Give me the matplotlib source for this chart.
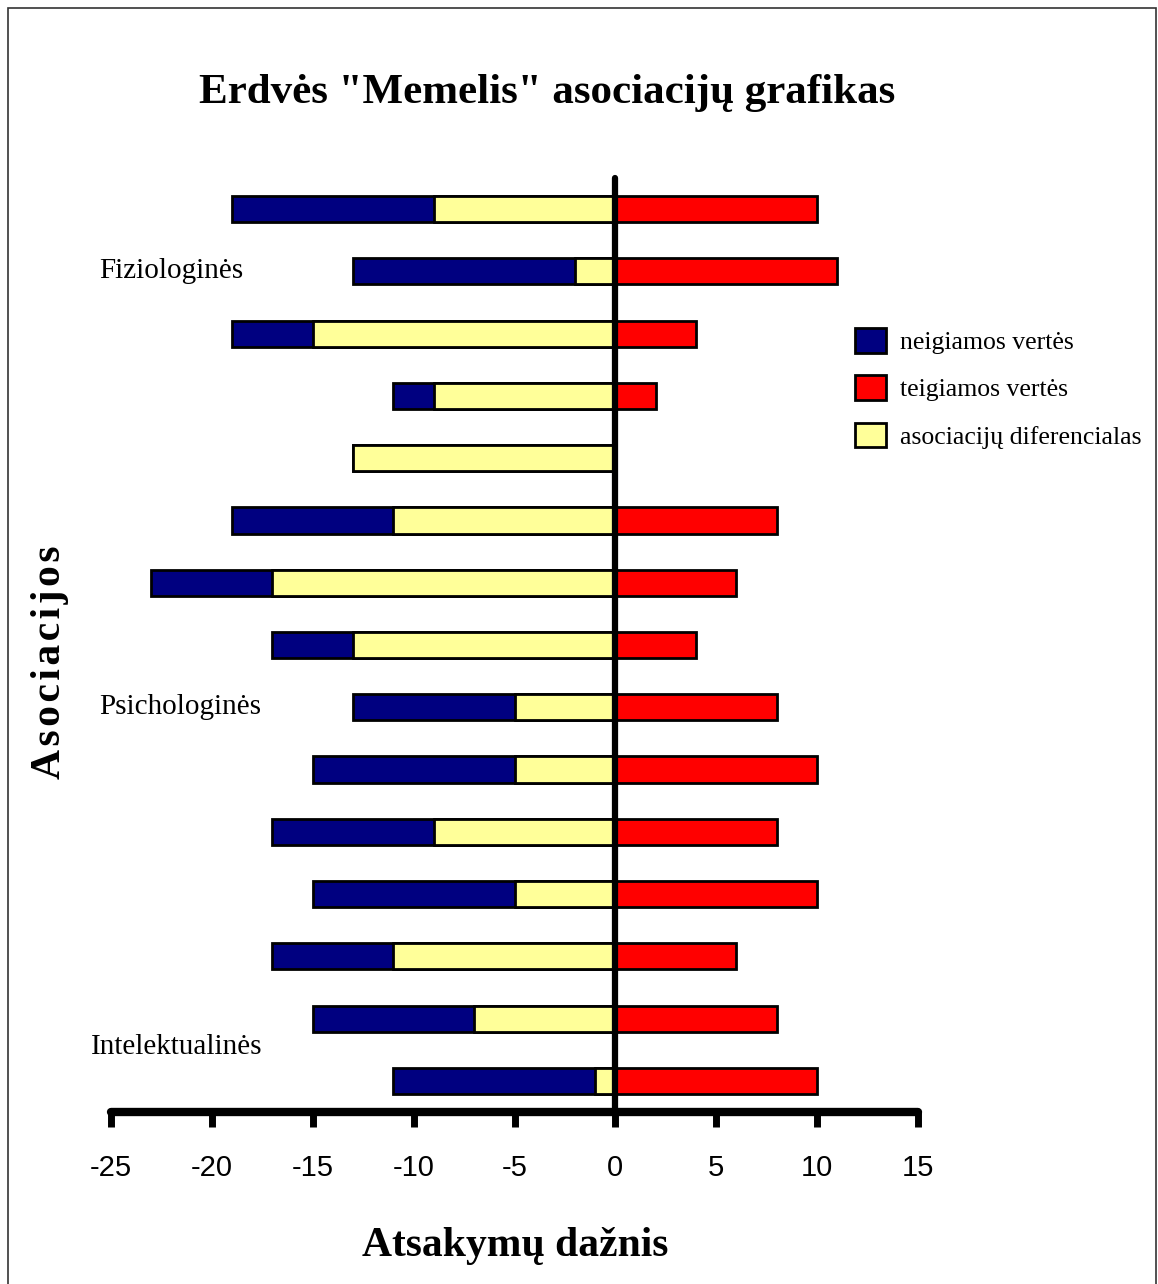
import matplotlib.pyplot as plt
from matplotlib.patches import Patch, Rectangle
import numpy as np

# Values, top row first
negatives = [19, 13, 19, 11, 13, 19, 23, 17, 13, 15, 17, 15, 17, 15, 11]
positives = [10, 11, 4, 2, 0, 8, 6, 4, 8, 10, 8, 10, 6, 8, 10]
differential = [9, 2, 15, 9, 13, 11, 17, 13, 5, 5, 9, 5, 11, 7, 1]

series_labels = ['neigiamos vertės', 'teigiamos vertės', 'asociacijų diferencialas']
group_labels = ['Fiziologinės', 'Psichologinės', 'Intelektualinės']
group_rows = [1, 8, 13.45]
group_x = [-25.6, -25.6, -26.0]
x_ticks = [-25, -20, -15, -10, -5, 0, 5, 10, 15]

navy, red, yellow = '#000080', '#ff0000', '#ffff99'
serif = 'Liberation Serif'
sans = 'Liberation Sans'

W, H = 1158, 1284
fig = plt.figure(figsize=(W / 100, H / 100), dpi=100)

# frame around the whole chart
fig.patches.append(Rectangle((8 / W, -0.01), (1156 - 8) / W, 1 - 8 / H + 0.01,
                             transform=fig.transFigure, fill=False,
                             edgecolor='#333333', linewidth=1.2))

ax = fig.add_axes([111 / W, 1 - 1112 / H, (918 - 111) / W, (1112 - 178) / H])

n = len(negatives)
ypos = np.arange(n)[::-1]
bh = 0.42

ax.barh(ypos, -np.array(negatives), height=bh, color=navy, edgecolor='black', linewidth=2, zorder=2)
ax.barh(ypos, -np.array(differential), height=bh, color=yellow, edgecolor='black', linewidth=2, zorder=3)
ax.barh(ypos, positives, height=bh, color=red, edgecolor='black', linewidth=2, zorder=3)

ax.set_xlim(-25, 15)
ax.set_ylim(-0.5, n - 0.5)

# vertical zero line
ax.plot([0, 0], [-0.5, n - 0.5], color='black', linewidth=4.5, solid_capstyle='round',
        zorder=5, clip_on=False)

for side in ['top', 'right', 'left']:
    ax.spines[side].set_visible(False)
ax.spines['bottom'].set_linewidth(6)
ax.spines['bottom'].set_capstyle('round')
ax.set_yticks([])
ax.set_xticks(x_ticks)
ax.set_xticklabels([str(t) for t in x_ticks], fontfamily=sans, fontsize=21)
ax.tick_params(axis='x', direction='out', length=11, width=5, pad=19)

# group labels inside the plot
for lbl, r, gx in zip(group_labels, group_rows, group_x):
    ax.text(gx, n - 1 - r, lbl, fontfamily=serif, fontsize=21, ha='left', va='center')

fig.text(547 / W, 1 - 93 / H, 'Erdvės "Memelis" asociacijų grafikas', fontfamily=serif,
         fontweight='bold', fontsize=31, ha='center', va='center')
fig.text(515 / W, 1 - 1246 / H, 'Atsakymų dažnis', fontfamily=serif,
         fontweight='bold', fontsize=30, ha='center', va='center')
fig.text(50 / W, 1 - 662 / H, 'A\u200as\u200ao\u200ac\u200ai\u200aa\u200ac\u200ai\u200aj\u200ao\u200as',
         fontfamily=[serif, 'DejaVu Serif'], fontweight='bold', fontsize=30,
         ha='center', va='center', rotation=90)

handles = [Patch(facecolor=c, edgecolor='black', linewidth=2) for c in (navy, red, yellow)]
fig.legend(handles, series_labels, loc='upper left', bbox_to_anchor=(845 / W, 1 - 318 / H),
           bbox_transform=fig.transFigure, frameon=False,
           prop={'family': serif, 'size': 18.5}, handlelength=1.2, handleheight=1.1,
           handletextpad=0.55, labelspacing=0.82, borderaxespad=0)

fig.savefig('out.png', dpi=100)
